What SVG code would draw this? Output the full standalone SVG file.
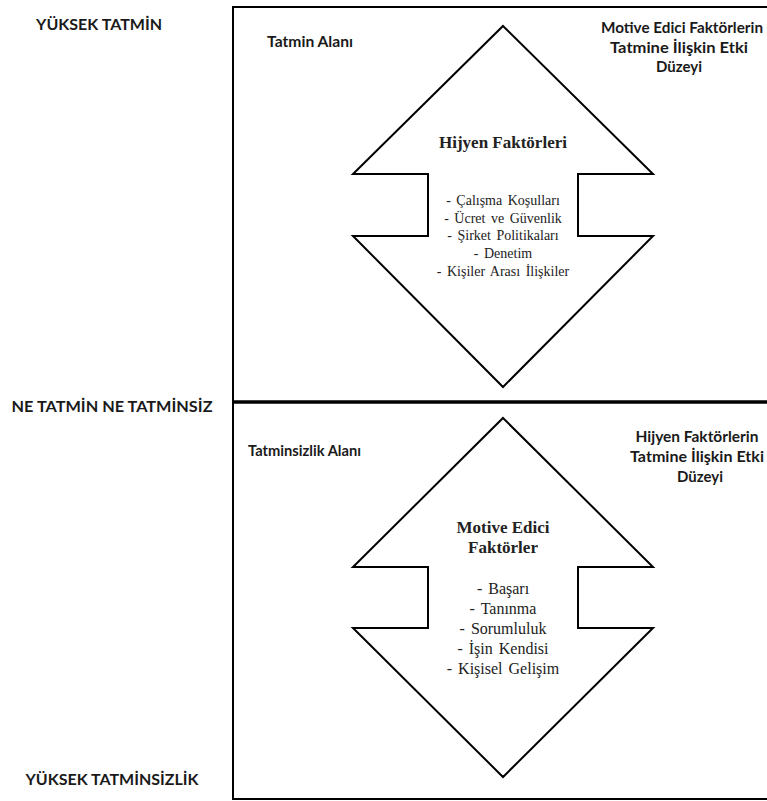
<svg xmlns="http://www.w3.org/2000/svg" width="767" height="801" viewBox="0 0 767 801">
<style>
.lbl{font-family:Lato,"Open Sans","Liberation Sans",sans-serif;font-weight:bold;fill:#1a1a1a}
.big{font-size:15.5px}
.mid{font-size:14.5px}
.ser{font-family:"Liberation Serif","DejaVu Serif",serif;fill:#222;text-anchor:middle}
.serb{font-family:"Liberation Serif","DejaVu Serif",serif;font-weight:bold;font-size:17px;fill:#222;text-anchor:middle}
.s14{font-size:14px;word-spacing:2px}
.s16{font-size:16px;word-spacing:2px}
.arrow{fill:#fff;stroke:#000;stroke-width:2;stroke-linejoin:miter}
.frame{fill:none;stroke:#000;stroke-width:2}
</style>
<rect x="0" y="0" width="767" height="801" fill="#fff"/>
<g id="frame">
<path class="frame" d="M 770 7 H 233 V 799 H 770"/>
<line x1="233" y1="402" x2="770" y2="402" stroke="#000" stroke-width="3.5"/>
</g>
<g id="axis-labels" class="lbl big" text-anchor="middle">
<text x="99" y="30" textLength="126" lengthAdjust="spacingAndGlyphs">YÜKSEK TATMİN</text>
<text x="112" y="412" textLength="201" lengthAdjust="spacingAndGlyphs">NE TATMİN NE TATMİNSİZ</text>
<text x="112" y="785" textLength="173" lengthAdjust="spacingAndGlyphs">YÜKSEK TATMİNSİZLİK</text>
</g>
<g id="area-top" class="lbl mid">
<text x="267" y="47" textLength="86" lengthAdjust="spacingAndGlyphs">Tatmin Alanı</text>
</g>
<g id="area-bottom" class="lbl mid">
<text x="248" y="456" textLength="113" lengthAdjust="spacingAndGlyphs">Tatminsizlik Alanı</text>
</g>
<g id="effect-top" class="lbl mid" text-anchor="middle">
<text x="682" y="33" textLength="162" lengthAdjust="spacingAndGlyphs">Motive Edici Faktörlerin</text>
<text x="679" y="53" textLength="138" lengthAdjust="spacingAndGlyphs">Tatmine İlişkin Etki</text>
<text x="679" y="72" textLength="46" lengthAdjust="spacingAndGlyphs">Düzeyi</text>
</g>
<g id="effect-bottom" class="lbl mid" text-anchor="middle">
<text x="697" y="442" textLength="123" lengthAdjust="spacingAndGlyphs">Hijyen Faktörlerin</text>
<text x="697" y="462" textLength="134" lengthAdjust="spacingAndGlyphs">Tatmine İlişkin Etki</text>
<text x="700" y="482" textLength="46" lengthAdjust="spacingAndGlyphs">Düzeyi</text>
</g>
<g id="hygiene-arrow">
<polygon class="arrow" points="503,26 653,174 578,174 578,236 653,236 503,387 353,236 428,236 428,174 353,174"/>
<text class="serb" x="503" y="148">Hijyen Faktörleri</text>
<text class="ser s14" x="503" y="205">- Çalışma Koşulları</text>
<text class="ser s14" x="503" y="223">- Ücret ve Güvenlik</text>
<text class="ser s14" x="503" y="240">- Şirket Politikaları</text>
<text class="ser s14" x="503" y="258">- Denetim</text>
<text class="ser s14" x="503" y="276">- Kişiler Arası İlişkiler</text>
</g>
<g id="motivator-arrow">
<polygon class="arrow" points="503,418 653,567 578,567 578,628 653,628 503,777 353,628 428,628 428,567 353,567"/>
<text class="serb" x="503" y="533">Motive Edici</text>
<text class="serb" x="503" y="553">Faktörler</text>
<text class="ser s16" x="503" y="594">- Başarı</text>
<text class="ser s16" x="503" y="614">- Tanınma</text>
<text class="ser s16" x="503" y="634">- Sorumluluk</text>
<text class="ser s16" x="503" y="654">- İşin Kendisi</text>
<text class="ser s16" x="503" y="674">- Kişisel Gelişim</text>
</g>
<g id="connectors"/>
</svg>
